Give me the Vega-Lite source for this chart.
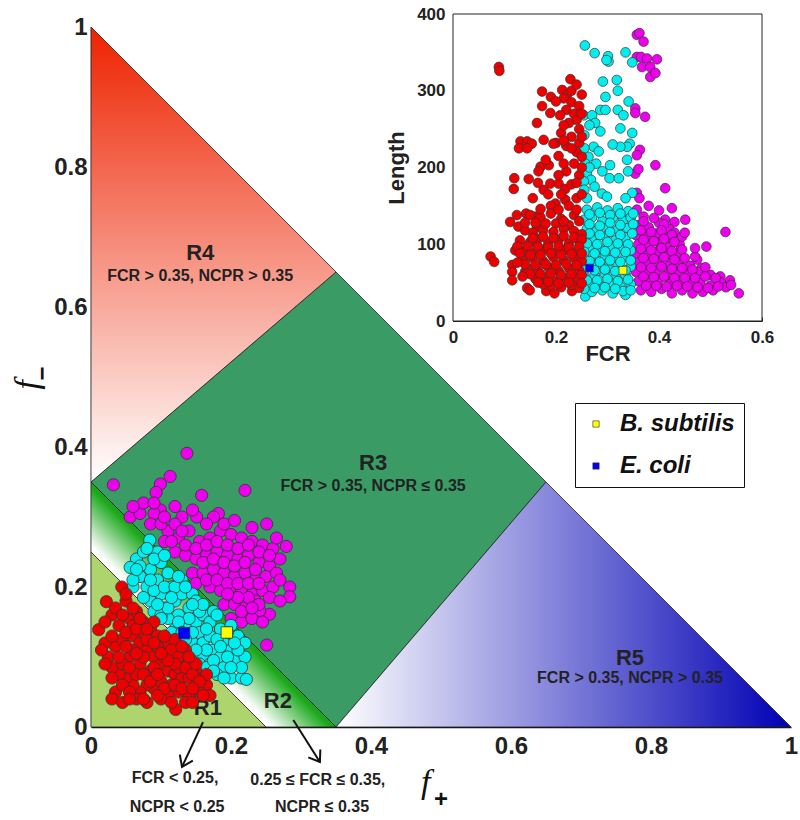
{
"$schema":"https://vega.github.io/schema/vega-lite/v6.json",
"width":700,"height":700,
"autosize":{"type":"none"},
"padding":{"left":91,"top":27,"right":9,"bottom":93},
"background":"white",
"config":{"view":{"stroke":null},"axis":{"grid":false,"labelFont":"Liberation Sans","titleFont":"Liberation Sans","labelColor":"#222","titleColor":"#222"}},
"datasets":{
"main":[
{"x":0.137,"y":0.391,"g":"m"},{"x":0.032,"y":0.346,"g":"m"},{"x":0.099,"y":0.347,"g":"m"},{"x":0.113,"y":0.358,"g":"m"},{"x":0.093,"y":0.335,"g":"m"},{"x":0.099,"y":0.31,"g":"m"},{"x":0.09,"y":0.305,"g":"m"},{"x":0.158,"y":0.331,"g":"m"},{"x":0.22,"y":0.338,"g":"m"},{"x":0.182,"y":0.305,"g":"m"},{"x":0.151,"y":0.3,"g":"m"},{"x":0.056,"y":0.3,"g":"m"},{"x":0.07,"y":0.305,"g":"m"},{"x":0.251,"y":0.29,"g":"m"},{"x":0.279,"y":0.258,"g":"m"},{"x":0.284,"y":0.2,"g":"m"},{"x":0.284,"y":0.186,"g":"m"},{"x":0.251,"y":0.117,"g":"m"},{"x":0.255,"y":0.161,"g":"m"},{"x":0.241,"y":0.166,"g":"m"},{"x":0.11,"y":0.28,"g":"m"},{"x":0.125,"y":0.27,"g":"m"},{"x":0.14,"y":0.28,"g":"m"},{"x":0.155,"y":0.265,"g":"m"},{"x":0.17,"y":0.27,"g":"m"},{"x":0.185,"y":0.28,"g":"m"},{"x":0.2,"y":0.275,"g":"m"},{"x":0.215,"y":0.27,"g":"m"},{"x":0.23,"y":0.265,"g":"m"},{"x":0.245,"y":0.26,"g":"m"},{"x":0.26,"y":0.255,"g":"m"},{"x":0.12,"y":0.25,"g":"m"},{"x":0.135,"y":0.245,"g":"m"},{"x":0.15,"y":0.24,"g":"m"},{"x":0.165,"y":0.245,"g":"m"},{"x":0.18,"y":0.25,"g":"m"},{"x":0.195,"y":0.245,"g":"m"},{"x":0.21,"y":0.24,"g":"m"},{"x":0.225,"y":0.245,"g":"m"},{"x":0.24,"y":0.235,"g":"m"},{"x":0.255,"y":0.23,"g":"m"},{"x":0.27,"y":0.24,"g":"m"},{"x":0.145,"y":0.22,"g":"m"},{"x":0.16,"y":0.22,"g":"m"},{"x":0.175,"y":0.225,"g":"m"},{"x":0.19,"y":0.22,"g":"m"},{"x":0.205,"y":0.215,"g":"m"},{"x":0.22,"y":0.22,"g":"m"},{"x":0.235,"y":0.21,"g":"m"},{"x":0.25,"y":0.215,"g":"m"},{"x":0.17,"y":0.2,"g":"m"},{"x":0.185,"y":0.195,"g":"m"},{"x":0.2,"y":0.2,"g":"m"},{"x":0.215,"y":0.195,"g":"m"},{"x":0.23,"y":0.19,"g":"m"},{"x":0.245,"y":0.195,"g":"m"},{"x":0.26,"y":0.2,"g":"m"},{"x":0.19,"y":0.175,"g":"m"},{"x":0.205,"y":0.175,"g":"m"},{"x":0.22,"y":0.17,"g":"m"},{"x":0.235,"y":0.18,"g":"m"},{"x":0.2,"y":0.155,"g":"m"},{"x":0.215,"y":0.15,"g":"m"},{"x":0.23,"y":0.155,"g":"m"},{"x":0.075,"y":0.32,"g":"m"},{"x":0.085,"y":0.29,"g":"m"},{"x":0.1,"y":0.29,"g":"m"},{"x":0.13,"y":0.3,"g":"m"},{"x":0.175,"y":0.3,"g":"m"},{"x":0.105,"y":0.265,"g":"m"},
{"x":0.12,"y":0.29,"g":"m"},{"x":0.135,"y":0.26,"g":"m"},{"x":0.15,"y":0.255,"g":"m"},{"x":0.165,"y":0.26,"g":"m"},{"x":0.18,"y":0.265,"g":"m"},{"x":0.195,"y":0.26,"g":"m"},{"x":0.21,"y":0.255,"g":"m"},{"x":0.225,"y":0.26,"g":"m"},{"x":0.24,"y":0.25,"g":"m"},{"x":0.265,"y":0.22,"g":"m"},{"x":0.255,"y":0.245,"g":"m"},{"x":0.27,"y":0.21,"g":"m"},{"x":0.16,"y":0.235,"g":"m"},{"x":0.175,"y":0.24,"g":"m"},{"x":0.19,"y":0.235,"g":"m"},{"x":0.205,"y":0.23,"g":"m"},{"x":0.22,"y":0.235,"g":"m"},{"x":0.235,"y":0.225,"g":"m"},{"x":0.15,"y":0.205,"g":"m"},{"x":0.165,"y":0.21,"g":"m"},{"x":0.18,"y":0.21,"g":"m"},{"x":0.195,"y":0.205,"g":"m"},{"x":0.21,"y":0.205,"g":"m"},{"x":0.225,"y":0.205,"g":"m"},{"x":0.24,"y":0.205,"g":"m"},{"x":0.255,"y":0.185,"g":"m"},{"x":0.24,"y":0.175,"g":"m"},{"x":0.225,"y":0.185,"g":"m"},{"x":0.21,"y":0.185,"g":"m"},{"x":0.195,"y":0.19,"g":"m"},{"x":0.215,"y":0.165,"g":"m"},{"x":0.23,"y":0.17,"g":"m"},{"x":0.245,"y":0.15,"g":"m"},{"x":0.27,"y":0.18,"g":"m"},{"x":0.265,"y":0.27,"g":"m"},{"x":0.105,"y":0.3,"g":"m"},{"x":0.12,"y":0.315,"g":"m"},{"x":0.145,"y":0.31,"g":"m"},{"x":0.165,"y":0.29,"g":"m"},{"x":0.19,"y":0.29,"g":"m"},{"x":0.205,"y":0.295,"g":"m"},{"x":0.23,"y":0.285,"g":"m"},{"x":0.09,"y":0.32,"g":"m"},{"x":0.06,"y":0.315,"g":"m"},{"x":0.115,"y":0.265,"g":"m"},{"x":0.13,"y":0.28,"g":"m"},
{"x":0.065,"y":0.24,"g":"c"},{"x":0.084,"y":0.267,"g":"c"},{"x":0.056,"y":0.228,"g":"c"},{"x":0.075,"y":0.25,"g":"c"},{"x":0.095,"y":0.25,"g":"c"},{"x":0.1,"y":0.235,"g":"c"},{"x":0.085,"y":0.225,"g":"c"},{"x":0.07,"y":0.215,"g":"c"},{"x":0.06,"y":0.2,"g":"c"},{"x":0.08,"y":0.2,"g":"c"},{"x":0.095,"y":0.21,"g":"c"},{"x":0.11,"y":0.22,"g":"c"},{"x":0.115,"y":0.2,"g":"c"},{"x":0.1,"y":0.19,"g":"c"},{"x":0.085,"y":0.18,"g":"c"},{"x":0.075,"y":0.185,"g":"c"},{"x":0.09,"y":0.165,"g":"c"},{"x":0.105,"y":0.17,"g":"c"},{"x":0.12,"y":0.18,"g":"c"},{"x":0.13,"y":0.19,"g":"c"},{"x":0.14,"y":0.17,"g":"c"},{"x":0.125,"y":0.16,"g":"c"},{"x":0.11,"y":0.155,"g":"c"},{"x":0.12,"y":0.14,"g":"c"},{"x":0.135,"y":0.145,"g":"c"},{"x":0.15,"y":0.15,"g":"c"},{"x":0.16,"y":0.16,"g":"c"},{"x":0.155,"y":0.135,"g":"c"},{"x":0.145,"y":0.12,"g":"c"},{"x":0.13,"y":0.12,"g":"c"},{"x":0.14,"y":0.105,"g":"c"},{"x":0.16,"y":0.12,"g":"c"},{"x":0.17,"y":0.13,"g":"c"},{"x":0.175,"y":0.11,"g":"c"},{"x":0.16,"y":0.1,"g":"c"},{"x":0.155,"y":0.09,"g":"c"},{"x":0.17,"y":0.09,"g":"c"},{"x":0.185,"y":0.1,"g":"c"},{"x":0.19,"y":0.12,"g":"c"},{"x":0.2,"y":0.11,"g":"c"},{"x":0.21,"y":0.13,"g":"c"},{"x":0.22,"y":0.12,"g":"c"},{"x":0.205,"y":0.095,"g":"c"},{"x":0.19,"y":0.085,"g":"c"},{"x":0.18,"y":0.075,"g":"c"},{"x":0.165,"y":0.085,"g":"c"},{"x":0.2,"y":0.07,"g":"c"},{"x":0.215,"y":0.07,"g":"c"},{"x":0.22,"y":0.1,"g":"c"},{"x":0.185,"y":0.14,"g":"c"},{"x":0.2,"y":0.145,"g":"c"},{"x":0.17,"y":0.15,"g":"c"},{"x":0.13,"y":0.21,"g":"c"},{"x":0.06,"y":0.21,"g":"c"},{"x":0.145,"y":0.19,"g":"c"},{"x":0.1,"y":0.16,"g":"c"},{"x":0.115,"y":0.135,"g":"c"},{"x":0.175,"y":0.165,"g":"c"},{"x":0.222,"y":0.068,"g":"c"},
{"x":0.07,"y":0.23,"g":"c"},{"x":0.09,"y":0.24,"g":"c"},{"x":0.105,"y":0.245,"g":"c"},{"x":0.08,"y":0.255,"g":"c"},{"x":0.065,"y":0.225,"g":"c"},{"x":0.09,"y":0.195,"g":"c"},{"x":0.105,"y":0.2,"g":"c"},{"x":0.12,"y":0.2,"g":"c"},{"x":0.125,"y":0.215,"g":"c"},{"x":0.135,"y":0.2,"g":"c"},{"x":0.15,"y":0.18,"g":"c"},{"x":0.155,"y":0.165,"g":"c"},{"x":0.14,"y":0.155,"g":"c"},{"x":0.125,"y":0.15,"g":"c"},{"x":0.11,"y":0.17,"g":"c"},{"x":0.095,"y":0.175,"g":"c"},{"x":0.1,"y":0.155,"g":"c"},{"x":0.13,"y":0.135,"g":"c"},{"x":0.145,"y":0.135,"g":"c"},{"x":0.165,"y":0.14,"g":"c"},{"x":0.18,"y":0.125,"g":"c"},{"x":0.175,"y":0.095,"g":"c"},{"x":0.185,"y":0.115,"g":"c"},{"x":0.195,"y":0.1,"g":"c"},{"x":0.21,"y":0.11,"g":"c"},{"x":0.215,"y":0.085,"g":"c"},{"x":0.2,"y":0.085,"g":"c"},{"x":0.195,"y":0.135,"g":"c"},{"x":0.205,"y":0.12,"g":"c"},{"x":0.165,"y":0.11,"g":"c"},{"x":0.15,"y":0.11,"g":"c"},{"x":0.135,"y":0.125,"g":"c"},{"x":0.18,"y":0.16,"g":"c"},{"x":0.16,"y":0.175,"g":"c"},{"x":0.145,"y":0.175,"g":"c"},{"x":0.115,"y":0.185,"g":"c"},{"x":0.085,"y":0.21,"g":"c"},{"x":0.19,"y":0.07,"g":"c"},{"x":0.175,"y":0.08,"g":"c"},
{"x":0.011,"y":0.139,"g":"r"},{"x":0.022,"y":0.179,"g":"r"},{"x":0.044,"y":0.2,"g":"r"},{"x":0.05,"y":0.18,"g":"r"},{"x":0.03,"y":0.16,"g":"r"},{"x":0.04,"y":0.145,"g":"r"},{"x":0.055,"y":0.155,"g":"r"},{"x":0.065,"y":0.165,"g":"r"},{"x":0.075,"y":0.15,"g":"r"},{"x":0.085,"y":0.14,"g":"r"},{"x":0.095,"y":0.13,"g":"r"},{"x":0.1,"y":0.115,"g":"r"},{"x":0.11,"y":0.12,"g":"r"},{"x":0.12,"y":0.105,"g":"r"},{"x":0.13,"y":0.095,"g":"r"},{"x":0.14,"y":0.09,"g":"r"},{"x":0.15,"y":0.08,"g":"r"},{"x":0.16,"y":0.07,"g":"r"},{"x":0.165,"y":0.06,"g":"r"},{"x":0.155,"y":0.05,"g":"r"},{"x":0.14,"y":0.045,"g":"r"},{"x":0.125,"y":0.05,"g":"r"},{"x":0.11,"y":0.045,"g":"r"},{"x":0.1,"y":0.04,"g":"r"},{"x":0.09,"y":0.055,"g":"r"},{"x":0.08,"y":0.06,"g":"r"},{"x":0.07,"y":0.05,"g":"r"},{"x":0.06,"y":0.06,"g":"r"},{"x":0.05,"y":0.07,"g":"r"},{"x":0.04,"y":0.075,"g":"r"},{"x":0.03,"y":0.085,"g":"r"},{"x":0.025,"y":0.1,"g":"r"},{"x":0.035,"y":0.115,"g":"r"},{"x":0.045,"y":0.125,"g":"r"},{"x":0.06,"y":0.13,"g":"r"},{"x":0.07,"y":0.12,"g":"r"},{"x":0.08,"y":0.11,"g":"r"},{"x":0.09,"y":0.1,"g":"r"},{"x":0.1,"y":0.09,"g":"r"},{"x":0.11,"y":0.08,"g":"r"},{"x":0.12,"y":0.075,"g":"r"},{"x":0.13,"y":0.07,"g":"r"},{"x":0.115,"y":0.06,"g":"r"},{"x":0.1,"y":0.065,"g":"r"},{"x":0.085,"y":0.08,"g":"r"},{"x":0.07,"y":0.09,"g":"r"},{"x":0.055,"y":0.1,"g":"r"},{"x":0.045,"y":0.09,"g":"r"},{"x":0.06,"y":0.11,"g":"r"},{"x":0.075,"y":0.1,"g":"r"},{"x":0.09,"y":0.085,"g":"r"},{"x":0.105,"y":0.1,"g":"r"},{"x":0.125,"y":0.085,"g":"r"},{"x":0.14,"y":0.07,"g":"r"},{"x":0.135,"y":0.11,"g":"r"},{"x":0.12,"y":0.125,"g":"r"},{"x":0.09,"y":0.15,"g":"r"},{"x":0.075,"y":0.135,"g":"r"},{"x":0.06,"y":0.145,"g":"r"},{"x":0.035,"y":0.05,"g":"r"},{"x":0.03,"y":0.04,"g":"r"},{"x":0.045,"y":0.035,"g":"r"},{"x":0.065,"y":0.04,"g":"r"},{"x":0.08,"y":0.035,"g":"r"},{"x":0.121,"y":0.025,"g":"r"},{"x":0.17,"y":0.045,"g":"r"},{"x":0.135,"y":0.035,"g":"r"},{"x":0.02,"y":0.12,"g":"r"},{"x":0.04,"y":0.1,"g":"r"},{"x":0.165,"y":0.075,"g":"r"},
{"x":0.02,"y":0.15,"g":"r"},{"x":0.035,"y":0.17,"g":"r"},{"x":0.05,"y":0.19,"g":"r"},{"x":0.06,"y":0.17,"g":"r"},{"x":0.045,"y":0.16,"g":"r"},{"x":0.05,"y":0.135,"g":"r"},{"x":0.065,"y":0.14,"g":"r"},{"x":0.08,"y":0.125,"g":"r"},{"x":0.095,"y":0.115,"g":"r"},{"x":0.105,"y":0.13,"g":"r"},{"x":0.115,"y":0.11,"g":"r"},{"x":0.125,"y":0.1,"g":"r"},{"x":0.135,"y":0.085,"g":"r"},{"x":0.145,"y":0.075,"g":"r"},{"x":0.155,"y":0.065,"g":"r"},{"x":0.15,"y":0.09,"g":"r"},{"x":0.14,"y":0.1,"g":"r"},{"x":0.13,"y":0.115,"g":"r"},{"x":0.12,"y":0.09,"g":"r"},{"x":0.11,"y":0.095,"g":"r"},{"x":0.1,"y":0.105,"g":"r"},{"x":0.09,"y":0.12,"g":"r"},{"x":0.08,"y":0.14,"g":"r"},{"x":0.07,"y":0.155,"g":"r"},{"x":0.065,"y":0.075,"g":"r"},{"x":0.055,"y":0.085,"g":"r"},{"x":0.045,"y":0.06,"g":"r"},{"x":0.055,"y":0.05,"g":"r"},{"x":0.075,"y":0.075,"g":"r"},{"x":0.085,"y":0.065,"g":"r"},{"x":0.095,"y":0.075,"g":"r"},{"x":0.105,"y":0.055,"g":"r"},{"x":0.12,"y":0.06,"g":"r"},{"x":0.13,"y":0.055,"g":"r"},{"x":0.145,"y":0.055,"g":"r"},{"x":0.16,"y":0.045,"g":"r"},{"x":0.03,"y":0.07,"g":"r"},{"x":0.02,"y":0.09,"g":"r"},{"x":0.03,"y":0.13,"g":"r"},{"x":0.015,"y":0.11,"g":"r"},{"x":0.05,"y":0.115,"g":"r"},{"x":0.065,"y":0.105,"g":"r"},{"x":0.095,"y":0.045,"g":"r"},{"x":0.075,"y":0.04,"g":"r"},{"x":0.055,"y":0.04,"g":"r"},{"x":0.115,"y":0.035,"g":"r"},{"x":0.145,"y":0.035,"g":"r"}
],
"ins":[
{"f":0.357,"l":373,"g":"m"},{"f":0.362,"l":375,"g":"m"},{"f":0.37,"l":364,"g":"m"},{"f":0.357,"l":344,"g":"m"},{"f":0.365,"l":344,"g":"m"},{"f":0.377,"l":342,"g":"m"},{"f":0.396,"l":341,"g":"m"},{"f":0.367,"l":331,"g":"m"},{"f":0.383,"l":331,"g":"m"},{"f":0.383,"l":318,"g":"m"},{"f":0.393,"l":323,"g":"m"},{"f":0.354,"l":277,"g":"m"},{"f":0.354,"l":271,"g":"m"},{"f":0.373,"l":266,"g":"m"},{"f":0.363,"l":223,"g":"m"},{"f":0.357,"l":216,"g":"m"},{"f":0.354,"l":192,"g":"m"},{"f":0.36,"l":198,"g":"m"},{"f":0.393,"l":203,"g":"m"},{"f":0.357,"l":167,"g":"m"},{"f":0.362,"l":160,"g":"m"},{"f":0.412,"l":173,"g":"m"},{"f":0.357,"l":145,"g":"m"},{"f":0.37,"l":136,"g":"m"},{"f":0.4,"l":144,"g":"m"},{"f":0.425,"l":147,"g":"m"},{"f":0.451,"l":132,"g":"m"},{"f":0.412,"l":132,"g":"m"},{"f":0.43,"l":129,"g":"m"},{"f":0.529,"l":116,"g":"m"},{"f":0.492,"l":97,"g":"m"},{"f":0.474,"l":80,"g":"m"},{"f":0.555,"l":36,"g":"m"},{"f":0.538,"l":53,"g":"m"},{"f":0.519,"l":58,"g":"m"},{"f":0.5,"l":60,"g":"m"},{"f":0.483,"l":69,"g":"m"},{"f":0.464,"l":66,"g":"m"},
{"f":0.36,"l":125,"g":"m"},{"f":0.38,"l":122,"g":"m"},{"f":0.4,"l":128,"g":"m"},{"f":0.42,"l":120,"g":"m"},{"f":0.355,"l":112,"g":"m"},{"f":0.375,"l":110,"g":"m"},{"f":0.395,"l":114,"g":"m"},{"f":0.415,"l":108,"g":"m"},{"f":0.43,"l":115,"g":"m"},{"f":0.36,"l":100,"g":"m"},{"f":0.38,"l":98,"g":"m"},{"f":0.4,"l":102,"g":"m"},{"f":0.42,"l":96,"g":"m"},{"f":0.44,"l":100,"g":"m"},{"f":0.355,"l":88,"g":"m"},{"f":0.375,"l":86,"g":"m"},{"f":0.395,"l":90,"g":"m"},{"f":0.415,"l":85,"g":"m"},{"f":0.435,"l":88,"g":"m"},{"f":0.36,"l":76,"g":"m"},{"f":0.38,"l":74,"g":"m"},{"f":0.4,"l":78,"g":"m"},{"f":0.42,"l":72,"g":"m"},{"f":0.44,"l":76,"g":"m"},{"f":0.46,"l":72,"g":"m"},{"f":0.355,"l":64,"g":"m"},{"f":0.375,"l":62,"g":"m"},{"f":0.395,"l":66,"g":"m"},{"f":0.415,"l":60,"g":"m"},{"f":0.435,"l":64,"g":"m"},{"f":0.455,"l":60,"g":"m"},{"f":0.475,"l":64,"g":"m"},{"f":0.36,"l":52,"g":"m"},{"f":0.38,"l":50,"g":"m"},{"f":0.4,"l":54,"g":"m"},{"f":0.42,"l":48,"g":"m"},{"f":0.44,"l":52,"g":"m"},{"f":0.46,"l":48,"g":"m"},{"f":0.48,"l":50,"g":"m"},{"f":0.5,"l":46,"g":"m"},{"f":0.52,"l":50,"g":"m"},{"f":0.365,"l":40,"g":"m"},{"f":0.385,"l":38,"g":"m"},{"f":0.405,"l":42,"g":"m"},{"f":0.425,"l":36,"g":"m"},{"f":0.445,"l":40,"g":"m"},{"f":0.465,"l":36,"g":"m"},{"f":0.485,"l":38,"g":"m"},{"f":0.505,"l":40,"g":"m"},{"f":0.53,"l":44,"g":"m"},
{"f":0.37,"l":130,"g":"m"},{"f":0.39,"l":134,"g":"m"},{"f":0.41,"l":126,"g":"m"},{"f":0.365,"l":118,"g":"m"},{"f":0.385,"l":116,"g":"m"},{"f":0.405,"l":118,"g":"m"},{"f":0.425,"l":112,"g":"m"},{"f":0.445,"l":110,"g":"m"},{"f":0.37,"l":106,"g":"m"},{"f":0.39,"l":104,"g":"m"},{"f":0.41,"l":107,"g":"m"},{"f":0.43,"l":103,"g":"m"},{"f":0.365,"l":94,"g":"m"},{"f":0.385,"l":92,"g":"m"},{"f":0.405,"l":95,"g":"m"},{"f":0.425,"l":91,"g":"m"},{"f":0.445,"l":93,"g":"m"},{"f":0.37,"l":82,"g":"m"},{"f":0.39,"l":81,"g":"m"},{"f":0.41,"l":83,"g":"m"},{"f":0.43,"l":80,"g":"m"},{"f":0.45,"l":82,"g":"m"},{"f":0.47,"l":84,"g":"m"},{"f":0.365,"l":70,"g":"m"},{"f":0.385,"l":69,"g":"m"},{"f":0.405,"l":71,"g":"m"},{"f":0.425,"l":68,"g":"m"},{"f":0.445,"l":69,"g":"m"},{"f":0.465,"l":67,"g":"m"},{"f":0.49,"l":70,"g":"m"},{"f":0.37,"l":58,"g":"m"},{"f":0.39,"l":57,"g":"m"},{"f":0.41,"l":58,"g":"m"},{"f":0.43,"l":56,"g":"m"},{"f":0.45,"l":56,"g":"m"},{"f":0.47,"l":56,"g":"m"},{"f":0.49,"l":58,"g":"m"},{"f":0.51,"l":56,"g":"m"},{"f":0.375,"l":46,"g":"m"},{"f":0.395,"l":46,"g":"m"},{"f":0.415,"l":45,"g":"m"},{"f":0.435,"l":46,"g":"m"},{"f":0.455,"l":45,"g":"m"},{"f":0.475,"l":44,"g":"m"},{"f":0.495,"l":43,"g":"m"},{"f":0.515,"l":45,"g":"m"},{"f":0.54,"l":47,"g":"m"},{"f":0.38,"l":150,"g":"m"},{"f":0.45,"l":115,"g":"m"},{"f":0.47,"l":95,"g":"m"},
{"f":0.256,"l":359,"g":"c"},{"f":0.275,"l":349,"g":"c"},{"f":0.301,"l":345,"g":"c"},{"f":0.302,"l":338,"g":"c"},{"f":0.298,"l":340,"g":"c"},{"f":0.335,"l":350,"g":"c"},{"f":0.348,"l":337,"g":"c"},{"f":0.291,"l":312,"g":"c"},{"f":0.318,"l":314,"g":"c"},{"f":0.296,"l":292,"g":"c"},{"f":0.341,"l":286,"g":"c"},{"f":0.286,"l":275,"g":"c"},{"f":0.296,"l":275,"g":"c"},{"f":0.32,"l":275,"g":"c"},{"f":0.331,"l":268,"g":"c"},{"f":0.254,"l":268,"g":"c"},{"f":0.27,"l":268,"g":"c"},{"f":0.325,"l":251,"g":"c"},{"f":0.276,"l":258,"g":"c"},{"f":0.286,"l":247,"g":"c"},{"f":0.255,"l":242,"g":"c"},{"f":0.348,"l":245,"g":"c"},{"f":0.343,"l":231,"g":"c"},{"f":0.338,"l":227,"g":"c"},{"f":0.325,"l":227,"g":"c"},{"f":0.273,"l":227,"g":"c"},{"f":0.283,"l":221,"g":"c"},{"f":0.263,"l":214,"g":"c"},{"f":0.257,"l":205,"g":"c"},{"f":0.278,"l":205,"g":"c"},{"f":0.305,"l":203,"g":"c"},{"f":0.338,"l":210,"g":"c"},{"f":0.26,"l":192,"g":"c"},{"f":0.268,"l":184,"g":"c"},{"f":0.254,"l":182,"g":"c"},{"f":0.304,"l":186,"g":"c"},{"f":0.322,"l":186,"g":"c"},{"f":0.255,"l":171,"g":"c"},{"f":0.289,"l":166,"g":"c"},{"f":0.299,"l":162,"g":"c"},{"f":0.348,"l":167,"g":"c"},{"f":0.257,"l":32,"g":"c"},{"f":0.335,"l":34,"g":"c"},
{"f":0.26,"l":145,"g":"c"},{"f":0.28,"l":148,"g":"c"},{"f":0.3,"l":144,"g":"c"},{"f":0.32,"l":147,"g":"c"},{"f":0.34,"l":143,"g":"c"},{"f":0.255,"l":132,"g":"c"},{"f":0.27,"l":135,"g":"c"},{"f":0.29,"l":130,"g":"c"},{"f":0.31,"l":134,"g":"c"},{"f":0.33,"l":131,"g":"c"},{"f":0.345,"l":135,"g":"c"},{"f":0.26,"l":120,"g":"c"},{"f":0.28,"l":118,"g":"c"},{"f":0.3,"l":122,"g":"c"},{"f":0.32,"l":119,"g":"c"},{"f":0.34,"l":121,"g":"c"},{"f":0.255,"l":108,"g":"c"},{"f":0.275,"l":106,"g":"c"},{"f":0.295,"l":110,"g":"c"},{"f":0.315,"l":105,"g":"c"},{"f":0.335,"l":109,"g":"c"},{"f":0.265,"l":96,"g":"c"},{"f":0.285,"l":94,"g":"c"},{"f":0.305,"l":98,"g":"c"},{"f":0.325,"l":95,"g":"c"},{"f":0.345,"l":92,"g":"c"},{"f":0.255,"l":84,"g":"c"},{"f":0.275,"l":82,"g":"c"},{"f":0.295,"l":86,"g":"c"},{"f":0.315,"l":80,"g":"c"},{"f":0.335,"l":84,"g":"c"},{"f":0.26,"l":72,"g":"c"},{"f":0.28,"l":74,"g":"c"},{"f":0.3,"l":70,"g":"c"},{"f":0.32,"l":73,"g":"c"},{"f":0.345,"l":71,"g":"c"},{"f":0.255,"l":58,"g":"c"},{"f":0.275,"l":60,"g":"c"},{"f":0.295,"l":62,"g":"c"},{"f":0.315,"l":57,"g":"c"},{"f":0.335,"l":60,"g":"c"},{"f":0.265,"l":48,"g":"c"},{"f":0.285,"l":46,"g":"c"},{"f":0.305,"l":50,"g":"c"},{"f":0.325,"l":45,"g":"c"},{"f":0.345,"l":48,"g":"c"},{"f":0.27,"l":38,"g":"c"},{"f":0.29,"l":40,"g":"c"},{"f":0.31,"l":36,"g":"c"},{"f":0.33,"l":39,"g":"c"},
{"f":0.265,"l":139,"g":"c"},{"f":0.285,"l":141,"g":"c"},{"f":0.305,"l":138,"g":"c"},{"f":0.325,"l":140,"g":"c"},{"f":0.35,"l":140,"g":"c"},{"f":0.265,"l":126,"g":"c"},{"f":0.285,"l":124,"g":"c"},{"f":0.305,"l":128,"g":"c"},{"f":0.325,"l":125,"g":"c"},{"f":0.35,"l":126,"g":"c"},{"f":0.265,"l":114,"g":"c"},{"f":0.285,"l":112,"g":"c"},{"f":0.305,"l":116,"g":"c"},{"f":0.325,"l":112,"g":"c"},{"f":0.348,"l":114,"g":"c"},{"f":0.26,"l":101,"g":"c"},{"f":0.28,"l":100,"g":"c"},{"f":0.3,"l":103,"g":"c"},{"f":0.32,"l":101,"g":"c"},{"f":0.34,"l":100,"g":"c"},{"f":0.255,"l":90,"g":"c"},{"f":0.275,"l":88,"g":"c"},{"f":0.295,"l":91,"g":"c"},{"f":0.315,"l":89,"g":"c"},{"f":0.335,"l":90,"g":"c"},{"f":0.265,"l":78,"g":"c"},{"f":0.285,"l":77,"g":"c"},{"f":0.305,"l":79,"g":"c"},{"f":0.325,"l":77,"g":"c"},{"f":0.345,"l":79,"g":"c"},{"f":0.255,"l":66,"g":"c"},{"f":0.275,"l":66,"g":"c"},{"f":0.295,"l":67,"g":"c"},{"f":0.315,"l":65,"g":"c"},{"f":0.335,"l":66,"g":"c"},{"f":0.26,"l":53,"g":"c"},{"f":0.28,"l":53,"g":"c"},{"f":0.3,"l":55,"g":"c"},{"f":0.32,"l":52,"g":"c"},{"f":0.34,"l":54,"g":"c"},{"f":0.255,"l":42,"g":"c"},{"f":0.275,"l":43,"g":"c"},{"f":0.295,"l":44,"g":"c"},{"f":0.315,"l":42,"g":"c"},{"f":0.345,"l":40,"g":"c"},{"f":0.26,"l":160,"g":"c"},{"f":0.275,"l":175,"g":"c"},{"f":0.265,"l":200,"g":"c"},{"f":0.255,"l":225,"g":"c"},{"f":0.265,"l":255,"g":"c"},{"f":0.31,"l":230,"g":"c"},{"f":0.29,"l":195,"g":"c"},{"f":0.335,"l":160,"g":"c"},{"f":0.34,"l":195,"g":"c"},{"f":0.32,"l":300,"g":"c"},
{"f":0.089,"l":331,"g":"r"},{"f":0.09,"l":326,"g":"r"},{"f":0.073,"l":84,"g":"r"},{"f":0.08,"l":77,"g":"r"},{"f":0.228,"l":315,"g":"r"},{"f":0.173,"l":299,"g":"r"},{"f":0.19,"l":292,"g":"r"},{"f":0.212,"l":301,"g":"r"},{"f":0.221,"l":294,"g":"r"},{"f":0.173,"l":280,"g":"r"},{"f":0.163,"l":258,"g":"r"},{"f":0.131,"l":234,"g":"r"},{"f":0.144,"l":234,"g":"r"},{"f":0.153,"l":231,"g":"r"},{"f":0.128,"l":225,"g":"r"},{"f":0.144,"l":225,"g":"r"},{"f":0.176,"l":236,"g":"r"},{"f":0.17,"l":201,"g":"r"},{"f":0.186,"l":203,"g":"r"},{"f":0.166,"l":195,"g":"r"},{"f":0.119,"l":186,"g":"r"},{"f":0.118,"l":172,"g":"r"},{"f":0.147,"l":185,"g":"r"},{"f":0.189,"l":179,"g":"r"},{"f":0.176,"l":171,"g":"r"},{"f":0.205,"l":179,"g":"r"},{"f":0.218,"l":172,"g":"r"},{"f":0.199,"l":153,"g":"r"},{"f":0.218,"l":158,"g":"r"},{"f":0.142,"l":140,"g":"r"},{"f":0.124,"l":138,"g":"r"},{"f":0.111,"l":129,"g":"r"},{"f":0.127,"l":123,"g":"r"},{"f":0.16,"l":136,"g":"r"},{"f":0.163,"l":123,"g":"r"},{"f":0.121,"l":92,"g":"r"},{"f":0.115,"l":73,"g":"r"},{"f":0.115,"l":64,"g":"r"},{"f":0.115,"l":53,"g":"r"},{"f":0.14,"l":64,"g":"r"},{"f":0.144,"l":43,"g":"r"},{"f":0.149,"l":40,"g":"r"},{"f":0.181,"l":39,"g":"r"},{"f":0.197,"l":36,"g":"r"},{"f":0.231,"l":39,"g":"r"},
{"f":0.215,"l":290,"g":"r"},{"f":0.23,"l":285,"g":"r"},{"f":0.245,"l":280,"g":"r"},{"f":0.22,"l":275,"g":"r"},{"f":0.235,"l":270,"g":"r"},{"f":0.24,"l":262,"g":"r"},{"f":0.225,"l":258,"g":"r"},{"f":0.245,"l":250,"g":"r"},{"f":0.21,"l":245,"g":"r"},{"f":0.23,"l":240,"g":"r"},{"f":0.245,"l":232,"g":"r"},{"f":0.22,"l":228,"g":"r"},{"f":0.24,"l":220,"g":"r"},{"f":0.25,"l":214,"g":"r"},{"f":0.2,"l":232,"g":"r"},{"f":0.205,"l":215,"g":"r"},{"f":0.235,"l":205,"g":"r"},{"f":0.22,"l":195,"g":"r"},{"f":0.245,"l":190,"g":"r"},{"f":0.23,"l":178,"g":"r"},{"f":0.21,"l":165,"g":"r"},{"f":0.24,"l":160,"g":"r"},{"f":0.225,"l":150,"g":"r"},{"f":0.19,"l":150,"g":"r"},{"f":0.189,"l":271,"g":"r"},{"f":0.208,"l":268,"g":"r"},{"f":0.195,"l":231,"g":"r"},
{"f":0.23,"l":300,"g":"r"},{"f":0.25,"l":295,"g":"r"},{"f":0.24,"l":308,"g":"r"},{"f":0.2,"l":286,"g":"r"},{"f":0.25,"l":270,"g":"r"},{"f":0.215,"l":255,"g":"r"},{"f":0.25,"l":240,"g":"r"},{"f":0.215,"l":235,"g":"r"},{"f":0.23,"l":225,"g":"r"},{"f":0.25,"l":200,"g":"r"},{"f":0.215,"l":205,"g":"r"},{"f":0.24,"l":180,"g":"r"},{"f":0.25,"l":165,"g":"r"},{"f":0.205,"l":190,"g":"r"},{"f":0.185,"l":165,"g":"r"},{"f":0.18,"l":210,"g":"r"},{"f":0.165,"l":180,"g":"r"},{"f":0.155,"l":160,"g":"r"},
{"f":0.15,"l":138,"g":"r"},{"f":0.17,"l":135,"g":"r"},{"f":0.19,"l":140,"g":"r"},{"f":0.21,"l":133,"g":"r"},{"f":0.235,"l":138,"g":"r"},{"f":0.245,"l":130,"g":"r"},{"f":0.16,"l":128,"g":"r"},{"f":0.2,"l":127,"g":"r"},{"f":0.225,"l":125,"g":"r"},{"f":0.14,"l":118,"g":"r"},{"f":0.155,"l":115,"g":"r"},{"f":0.175,"l":118,"g":"r"},{"f":0.195,"l":116,"g":"r"},{"f":0.215,"l":120,"g":"r"},{"f":0.235,"l":117,"g":"r"},{"f":0.25,"l":113,"g":"r"},{"f":0.13,"l":105,"g":"r"},{"f":0.15,"l":103,"g":"r"},{"f":0.165,"l":107,"g":"r"},{"f":0.185,"l":102,"g":"r"},{"f":0.205,"l":106,"g":"r"},{"f":0.225,"l":101,"g":"r"},{"f":0.245,"l":104,"g":"r"},{"f":0.14,"l":92,"g":"r"},{"f":0.16,"l":90,"g":"r"},{"f":0.18,"l":94,"g":"r"},{"f":0.2,"l":89,"g":"r"},{"f":0.22,"l":93,"g":"r"},{"f":0.24,"l":90,"g":"r"},{"f":0.135,"l":80,"g":"r"},{"f":0.155,"l":82,"g":"r"},{"f":0.175,"l":78,"g":"r"},{"f":0.195,"l":83,"g":"r"},{"f":0.215,"l":79,"g":"r"},{"f":0.235,"l":82,"g":"r"},{"f":0.25,"l":78,"g":"r"},{"f":0.145,"l":68,"g":"r"},{"f":0.165,"l":66,"g":"r"},{"f":0.185,"l":70,"g":"r"},{"f":0.205,"l":65,"g":"r"},{"f":0.225,"l":69,"g":"r"},{"f":0.245,"l":66,"g":"r"},{"f":0.16,"l":55,"g":"r"},{"f":0.18,"l":57,"g":"r"},{"f":0.2,"l":52,"g":"r"},{"f":0.22,"l":56,"g":"r"},{"f":0.24,"l":53,"g":"r"},{"f":0.19,"l":46,"g":"r"},{"f":0.21,"l":44,"g":"r"},{"f":0.23,"l":47,"g":"r"},{"f":0.245,"l":43,"g":"r"},{"f":0.175,"l":48,"g":"r"},
{"f":0.155,"l":108,"g":"r"},{"f":0.175,"l":110,"g":"r"},{"f":0.195,"l":108,"g":"r"},{"f":0.215,"l":111,"g":"r"},{"f":0.235,"l":109,"g":"r"},{"f":0.25,"l":106,"g":"r"},{"f":0.145,"l":98,"g":"r"},{"f":0.165,"l":97,"g":"r"},{"f":0.185,"l":96,"g":"r"},{"f":0.205,"l":98,"g":"r"},{"f":0.225,"l":96,"g":"r"},{"f":0.245,"l":97,"g":"r"},{"f":0.125,"l":97,"g":"r"},{"f":0.15,"l":86,"g":"r"},{"f":0.17,"l":86,"g":"r"},{"f":0.19,"l":88,"g":"r"},{"f":0.21,"l":86,"g":"r"},{"f":0.23,"l":87,"g":"r"},{"f":0.25,"l":88,"g":"r"},{"f":0.13,"l":88,"g":"r"},{"f":0.14,"l":74,"g":"r"},{"f":0.16,"l":73,"g":"r"},{"f":0.18,"l":74,"g":"r"},{"f":0.2,"l":73,"g":"r"},{"f":0.22,"l":74,"g":"r"},{"f":0.24,"l":73,"g":"r"},{"f":0.125,"l":76,"g":"r"},{"f":0.15,"l":61,"g":"r"},{"f":0.17,"l":61,"g":"r"},{"f":0.19,"l":62,"g":"r"},{"f":0.21,"l":60,"g":"r"},{"f":0.23,"l":61,"g":"r"},{"f":0.25,"l":60,"g":"r"},{"f":0.135,"l":58,"g":"r"},{"f":0.165,"l":50,"g":"r"},{"f":0.185,"l":51,"g":"r"},{"f":0.205,"l":49,"g":"r"},{"f":0.225,"l":50,"g":"r"},{"f":0.25,"l":49,"g":"r"},{"f":0.14,"l":128,"g":"r"},{"f":0.18,"l":127,"g":"r"},{"f":0.215,"l":130,"g":"r"},{"f":0.24,"l":145,"g":"r"},{"f":0.205,"l":145,"g":"r"},{"f":0.17,"l":146,"g":"r"}
]
},
"layer":[
{"layer":[
{"data":{"values":[{"x":0,"t":0.25,"b":0},{"x":0.25,"t":0,"b":0}]},
 "mark":{"type":"area","fill":"#add46d","stroke":"#222","strokeWidth":0.8},
 "encoding":{
  "x":{"field":"x","type":"quantitative","scale":{"domain":[0,1],"nice":false},"title":null,"axis":{"values":[0,0.2,0.4,0.6,0.8,1],"format":"~g","labelFontSize":24,"labelFontWeight":"bold","labelPadding":7,"ticks":false,"labelFlush":false,"domainColor":"#111","domainWidth":1.5,"title":null}},
  "y":{"field":"t","type":"quantitative","scale":{"domain":[0,1],"nice":false},"title":null,"axis":{"values":[0,0.2,0.4,0.6,0.8,1],"format":"~g","labelFontSize":24,"labelFontWeight":"bold","labelPadding":4,"ticks":false,"labelFlush":false,"domainColor":"#888","domainWidth":1.5,"title":null}},
  "y2":{"field":"b"}}},
{"data":{"values":[{"x":0,"t":0.35,"b":0.25},{"x":0.25,"t":0.1,"b":0},{"x":0.35,"t":0,"b":0}]},
 "mark":{"type":"area","fill":{"gradient":"linear","x1":0,"y1":1,"x2":1,"y2":0,"stops":[{"offset":0.37,"color":"#ffffff"},{"offset":0.49,"color":"#1aa81a"}]},"stroke":"#222","strokeWidth":0.8},
 "encoding":{"x":{"field":"x","type":"quantitative","scale":{"domain":[0,1],"nice":false},"title":null},"y":{"field":"t","type":"quantitative","scale":{"domain":[0,1],"nice":false},"title":null},"y2":{"field":"b"}}},
{"data":{"values":[{"x":0,"t":0.35,"b":0.35},{"x":0.35,"t":0.65,"b":0},{"x":0.65,"t":0.35,"b":0.35}]},
 "mark":{"type":"area","fill":"#3a9b65","stroke":"#222","strokeWidth":0.8},
 "encoding":{"x":{"field":"x","type":"quantitative","scale":{"domain":[0,1],"nice":false},"title":null},"y":{"field":"t","type":"quantitative","scale":{"domain":[0,1],"nice":false},"title":null},"y2":{"field":"b"}}},
{"data":{"values":[{"x":0,"t":1,"b":0.35},{"x":0.35,"t":0.65,"b":0.65}]},
 "mark":{"type":"area","fill":{"gradient":"linear","x1":0,"y1":0,"x2":0,"y2":1,"stops":[{"offset":0,"color":"#ee2200"},{"offset":1,"color":"#ffffff"}]},"stroke":"#222","strokeWidth":0.8},
 "encoding":{"x":{"field":"x","type":"quantitative","scale":{"domain":[0,1],"nice":false},"title":null},"y":{"field":"t","type":"quantitative","scale":{"domain":[0,1],"nice":false},"title":null},"y2":{"field":"b"}}},
{"data":{"values":[{"x":0.35,"t":0,"b":0},{"x":0.65,"t":0.35,"b":0},{"x":1,"t":0,"b":0}]},
 "mark":{"type":"area","fill":{"gradient":"linear","x1":0,"y1":0,"x2":1,"y2":0,"stops":[{"offset":0,"color":"#ffffff"},{"offset":1,"color":"#0000b4"}]},"stroke":"#222","strokeWidth":0.8},
 "encoding":{"x":{"field":"x","type":"quantitative","scale":{"domain":[0,1],"nice":false},"title":null},"y":{"field":"t","type":"quantitative","scale":{"domain":[0,1],"nice":false},"title":null},"y2":{"field":"b"}}},
{"data":{"values":[{"x":0.156,"y":0.677,"lab":"R4"},{"x":0.403,"y":0.377,"lab":"R3"},{"x":0.77,"y":0.099,"lab":"R5"},{"x":0.167,"y":0.027,"lab":"R1"},{"x":0.267,"y":0.037,"lab":"R2"}]},
 "mark":{"type":"text","font":"Liberation Sans","fontSize":22,"fontWeight":"bold","color":"#222"},
 "encoding":{"x":{"field":"x","type":"quantitative","scale":{"domain":[0,1],"nice":false},"title":null},"y":{"field":"y","type":"quantitative","scale":{"domain":[0,1],"nice":false},"title":null},"text":{"field":"lab"}}},
{"data":{"values":[{"x":0.156,"y":0.644,"lab":"FCR > 0.35, NCPR > 0.35"},{"x":0.403,"y":0.344,"lab":"FCR > 0.35, NCPR ≤ 0.35"},{"x":0.77,"y":0.07,"lab":"FCR > 0.35, NCPR > 0.35"},{"x":0.12,"y":-0.073,"lab":"FCR < 0.25,"},{"x":0.123,"y":-0.114,"lab":"NCPR < 0.25"},{"x":0.324,"y":-0.076,"lab":"0.25 ≤ FCR ≤ 0.35,"},{"x":0.33,"y":-0.114,"lab":"NCPR ≤ 0.35"}]},
 "mark":{"type":"text","font":"Liberation Sans","fontSize":16,"fontWeight":"bold","color":"#222"},
 "encoding":{"x":{"field":"x","type":"quantitative","scale":{"domain":[0,1],"nice":false},"title":null},"y":{"field":"y","type":"quantitative","scale":{"domain":[0,1],"nice":false},"title":null},"text":{"field":"lab"}}},
{"data":{"name":"main"},
 "mark":{"type":"point","shape":"circle","filled":true,"size":150,"stroke":"#333","strokeWidth":0.8,"opacity":1},
 "encoding":{"x":{"field":"x","type":"quantitative","scale":{"domain":[0,1],"nice":false},"title":null},"y":{"field":"y","type":"quantitative","scale":{"domain":[0,1],"nice":false},"title":null},
  "fill":{"field":"g","type":"nominal","scale":{"domain":["r","c","m"],"range":["#ee0000","#00eeee","#ee00ee"]},"legend":null}}},
{"data":{"values":[{"x":0.133,"y":0.134,"sp":"E. coli"},{"x":0.194,"y":0.135,"sp":"B. subtilis"}]},
 "mark":{"type":"point","shape":"square","filled":true,"size":130,"stroke":"#333","strokeWidth":0.8,"opacity":1},
 "encoding":{"x":{"field":"x","type":"quantitative","scale":{"domain":[0,1],"nice":false},"title":null},"y":{"field":"y","type":"quantitative","scale":{"domain":[0,1],"nice":false},"title":null},
  "color":{"field":"sp","type":"nominal","scale":{"domain":["B. subtilis","E. coli"],"range":["#ffff00","#0000ff"]},
   "legend":{"orient":"none","legendX":484,"legendY":376,"title":null,"labelFont":"Liberation Sans","labelFontSize":24,"labelFontStyle":"italic","labelFontWeight":"bold","labelColor":"#111","labelLimit":400,"labelOffset":12,"strokeColor":"#111","fillColor":"white","padding":9,"rowPadding":18,"symbolType":"square","symbolSize":40,"symbolStrokeColor":"#333","symbolStrokeWidth":0.6}}}},
{"data":{"values":[{"x":0.16,"y":0.007,"x2":0.13,"y2":-0.057},{"x":0.289,"y":0.01,"x2":0.327,"y2":-0.05}]},
 "mark":{"type":"rule","color":"#111","strokeWidth":2},
 "encoding":{"x":{"field":"x","type":"quantitative","scale":{"domain":[0,1],"nice":false},"title":null},"y":{"field":"y","type":"quantitative","scale":{"domain":[0,1],"nice":false},"title":null},"x2":{"field":"x2"},"y2":{"field":"y2"}}},
{"data":{"values":[{"x":0.13,"y":-0.057}]},
 "mark":{"type":"point","shape":"M-0.7,-1L0,0L0.7,-1","filled":false,"size":420,"stroke":"#111","strokeWidth":2,"angle":25,"opacity":1},
 "encoding":{"x":{"field":"x","type":"quantitative","scale":{"domain":[0,1],"nice":false},"title":null},"y":{"field":"y","type":"quantitative","scale":{"domain":[0,1],"nice":false},"title":null}}},
{"data":{"values":[{"x":0.327,"y":-0.05}]},
 "mark":{"type":"point","shape":"M-0.7,-1L0,0L0.7,-1","filled":false,"size":420,"stroke":"#111","strokeWidth":2,"angle":327,"opacity":1},
 "encoding":{"x":{"field":"x","type":"quantitative","scale":{"domain":[0,1],"nice":false},"title":null},"y":{"field":"y","type":"quantitative","scale":{"domain":[0,1],"nice":false},"title":null}}},
{"data":{"values":[{"x":0.478,"y":-0.08,"lab":"f"}]},
 "mark":{"type":"text","font":"Liberation Serif","fontSize":34,"fontStyle":"italic","color":"#111"},
 "encoding":{"x":{"field":"x","type":"quantitative","scale":{"domain":[0,1],"nice":false},"title":null},"y":{"field":"y","type":"quantitative","scale":{"domain":[0,1],"nice":false},"title":null},"text":{"field":"lab"}}},
{"data":{"values":[{"x":0.5,"y":-0.104,"lab":"+"}]},
 "mark":{"type":"text","font":"Liberation Sans","fontSize":24,"fontWeight":"bold","color":"#111"},
 "encoding":{"x":{"field":"x","type":"quantitative","scale":{"domain":[0,1],"nice":false},"title":null},"y":{"field":"y","type":"quantitative","scale":{"domain":[0,1],"nice":false},"title":null},"text":{"field":"lab"}}},
{"data":{"values":[{"x":-0.09,"y":0.489,"lab":"f"}]},
 "mark":{"type":"text","font":"Liberation Serif","fontSize":34,"fontStyle":"italic","color":"#111","angle":270},
 "encoding":{"x":{"field":"x","type":"quantitative","scale":{"domain":[0,1],"nice":false},"title":null},"y":{"field":"y","type":"quantitative","scale":{"domain":[0,1],"nice":false},"title":null},"text":{"field":"lab"}}},
{"data":{"values":[{"x":-0.069,"y":0.505,"lab":"−"}]},
 "mark":{"type":"text","font":"Liberation Sans","fontSize":24,"fontWeight":"bold","color":"#111","angle":270},
 "encoding":{"x":{"field":"x","type":"quantitative","scale":{"domain":[0,1],"nice":false},"title":null},"y":{"field":"y","type":"quantitative","scale":{"domain":[0,1],"nice":false},"title":null},"text":{"field":"lab"}}}
]},
{"layer":[
{"data":{"values":[{"x0":0,"x1":0.6,"y0":0,"y1":400}]},
 "mark":{"type":"rect","fill":"white","stroke":"#222","strokeWidth":1},
 "encoding":{
  "x":{"field":"x0","type":"quantitative","scale":{"domain":[0,0.6],"range":[362,671],"nice":false,"zero":false},"axis":{"orient":"bottom","offset":-406,"values":[0,0.2,0.4,0.6],"format":"~g","labelFontSize":17,"labelFontWeight":"bold","labelFlush":false,"tickSize":-4,"tickColor":"#222","labelPadding":12,"domainColor":"#222","title":"FCR","titleFontSize":22,"titleFontWeight":"bold","titlePadding":-2}},
  "x2":{"field":"x1"},
  "y":{"field":"y0","type":"quantitative","scale":{"domain":[0,400],"range":[294,-13],"nice":false,"zero":false},"axis":{"orient":"left","offset":-362,"values":[0,100,200,300,400],"labelFontSize":17,"labelFontWeight":"bold","labelFlush":false,"tickSize":-4,"tickColor":"#222","labelPadding":12,"domainColor":"#222","title":"Length","titleFontSize":22,"titleFontWeight":"bold","titlePadding":8}},
  "y2":{"field":"y1"}}},
{"data":{"name":"ins"},
 "mark":{"type":"point","shape":"circle","filled":true,"size":95,"stroke":"#333","strokeWidth":0.7,"opacity":1},
 "encoding":{"x":{"field":"f","type":"quantitative","title":"FCR"},"y":{"field":"l","type":"quantitative","title":"Length"},
  "fill":{"field":"g","type":"nominal","scale":{"domain":["r","c","m"],"range":["#ee0000","#00eeee","#ee00ee"]},"legend":null}}},
{"data":{"values":[{"f":0.265,"l":69,"sp":"E. coli"},{"f":0.33,"l":66,"sp":"B. subtilis"}]},
 "mark":{"type":"point","shape":"square","filled":true,"size":60,"stroke":"#333","strokeWidth":0.6,"opacity":1},
 "encoding":{"x":{"field":"f","type":"quantitative","title":"FCR"},"y":{"field":"l","type":"quantitative","title":"Length"},
  "color":{"field":"sp","type":"nominal","scale":{"domain":["B. subtilis","E. coli"],"range":["#ffff00","#0000ff"]},"legend":null}}}
]}
],
"resolve":{"scale":{"x":"independent","y":"independent"},"axis":{"x":"independent","y":"independent"}}
}
